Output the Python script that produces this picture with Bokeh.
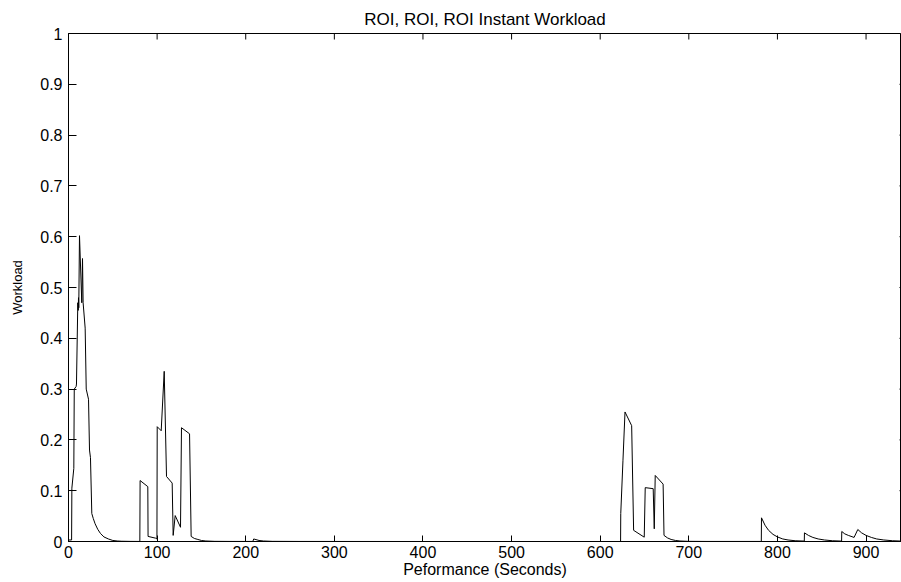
import math
from bokeh.plotting import figure
from bokeh.models import Range1d, FixedTicker, ColumnDataSource
from bokeh.embed import file_html
from bokeh.resources import INLINE

title_text = "ROI, ROI, ROI Instant Workload"
x_label = "Peformance (Seconds)"
y_label = "Workload"

x_min, x_max = 0, 940
y_min, y_max = 0, 1
x_ticks = [0, 100, 200, 300, 400, 500, 600, 700, 800, 900]
y_ticks = [0, 0.1, 0.2, 0.3, 0.4, 0.5, 0.6, 0.7, 0.8, 0.9, 1]
y_tick_labels = ["0", "0.1", "0.2", "0.3", "0.4", "0.5", "0.6", "0.7", "0.8", "0.9", "1"]

# time (s) and workload samples
seconds = [
    0, 3.5, 3.8, 6.0, 6.5, 8.6, 9.0, 10.5, 11.0, 11.3, 11.6, 12.4, 15.0, 15.8, 16.5,
    18.8, 20.0, 22.6, 23.7, 24.8, 26.3, 28, 30, 33, 36, 40, 45, 50, 55, 60, 70, 80,
    80.5, 80.8, 89.5, 89.8, 98.2, 99.8, 100.1, 104.6, 108.0, 110.6, 117.0, 118.1,
    120.4, 126.4, 127.5, 136.6, 138.4, 142, 146, 150, 155, 165, 185,
    208, 209, 215, 220, 230, 260, 400, 622.5,
    623, 623.2, 625.7, 628, 635.5, 636.6, 637.7, 649.7, 650.8, 659.8, 661, 662.1,
    671, 672, 676, 680, 685, 690, 700, 720, 781.8,
    782, 786, 790, 795, 800, 806, 812, 820, 830.3,
    830.5, 835, 840, 846, 853, 862, 872.4,
    872.6, 876, 880, 886.5, 890.7, 895, 900, 906, 912, 920, 930, 940,
]
workload = [
    0.003, 0.003, 0.105, 0.144, 0.30, 0.305, 0.31, 0.47, 0.455, 0.48, 0.46, 0.602, 0.47, 0.557, 0.47,
    0.42, 0.30, 0.28, 0.18, 0.165, 0.055, 0.045, 0.035, 0.024, 0.016, 0.009, 0.005, 0.002, 0.001, 0.0005, 0.0002, 0.0001,
    0.0002, 0.12, 0.108, 0.01, 0.0066, 0.005, 0.226, 0.218, 0.335, 0.128, 0.115, 0.012,
    0.051, 0.028, 0.224, 0.212, 0.01, 0.006, 0.004, 0.002, 0.001, 0.0003, 0.0001,
    0.0001, 0.005, 0.002, 0.001, 0.0003, 0.0001, 0.0, 0.0,
    0.0, 0.055, 0.16, 0.255, 0.228, 0.125, 0.022, 0.0085, 0.106, 0.104, 0.025, 0.13,
    0.113, 0.012, 0.007, 0.004, 0.002, 0.001, 0.0003, 0.0001, 0.0001,
    0.0466, 0.032, 0.022, 0.014, 0.009, 0.005, 0.003, 0.0015, 0.0008,
    0.017, 0.012, 0.008, 0.005, 0.003, 0.0015, 0.0008,
    0.0197, 0.015, 0.012, 0.008, 0.0236, 0.017, 0.012, 0.008, 0.005, 0.003, 0.0015, 0.0008,
]

FONT = "Liberation Sans"

source = ColumnDataSource(data=dict(t=seconds, w=workload))

p = figure(
    width=901, height=582,
    x_range=Range1d(x_min, x_max), y_range=Range1d(y_min, y_max),
    output_backend="svg", toolbar_location=None,
    min_border_left=68, min_border_right=0, min_border_top=33, min_border_bottom=41,
)
p.background_fill_color = "white"
p.border_fill_color = "white"
p.outline_line_color = "black"
p.outline_line_width = 1
p.xgrid.visible = False
p.ygrid.visible = False

p.title.text = title_text
p.title.align = "center"
p.title.text_font = FONT
p.title.text_font_size = "17px"
p.title.text_font_style = "normal"
p.title.text_color = "black"
p.title.standoff = 10

xa = p.xaxis[0]
xa.ticker = FixedTicker(ticks=x_ticks)
xa.major_tick_in = 6
xa.major_tick_out = 0
xa.minor_tick_in = 0
xa.minor_tick_out = 0
xa.axis_line_color = "black"
xa.major_tick_line_color = "black"
xa.major_label_text_font = FONT
xa.major_label_text_font_size = "16px"
xa.major_label_text_color = "black"
xa.major_label_standoff = 4
xa.axis_label = x_label
xa.axis_label_text_font = FONT
xa.axis_label_text_font_size = "16px"
xa.axis_label_text_font_style = "normal"
xa.axis_label_text_color = "black"
xa.axis_label_standoff = 0

ya = p.yaxis[0]
ya.ticker = FixedTicker(ticks=y_ticks)
ya.major_label_overrides = {t: l for t, l in zip(y_ticks, y_tick_labels)}
ya.major_tick_in = 8
ya.major_tick_out = 0
ya.minor_tick_in = 0
ya.minor_tick_out = 0
ya.axis_line_color = "black"
ya.major_tick_line_color = "black"
ya.major_label_text_font = FONT
ya.major_label_text_font_size = "16px"
ya.major_label_text_color = "black"
ya.major_label_standoff = 6
ya.axis_label = y_label
ya.axis_label_text_font = FONT
ya.axis_label_text_font_size = "13px"
ya.axis_label_text_font_style = "normal"
ya.axis_label_text_color = "black"
ya.axis_label_standoff = 12

# box tick marks on the top and right edges (MATLAB "box on" style)
p.scatter(x=x_ticks, y=[y_max] * len(x_ticks), marker="dash", angle=math.pi / 2,
          size=12, line_color="black", line_width=1)
p.scatter(x=[x_max] * len(y_ticks), y=y_ticks, marker="dash",
          size=4, line_color="black", line_width=1)

p.line("t", "w", source=source, line_color="black", line_width=1)

open("out.html", "w").write(file_html(p, INLINE))
